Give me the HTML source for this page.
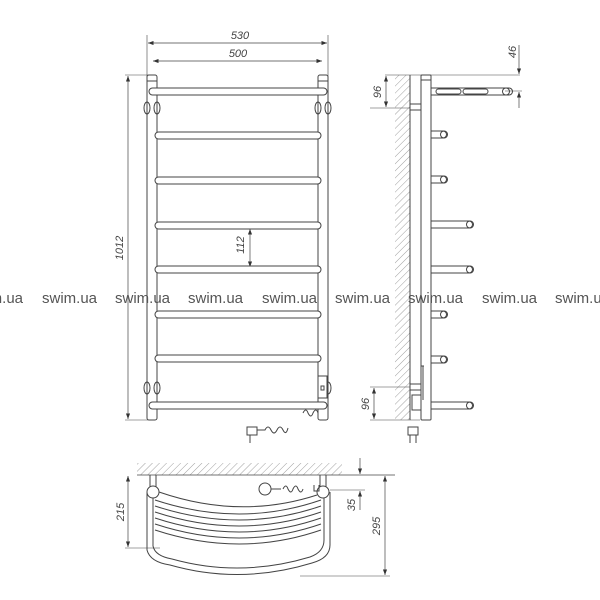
<!DOCTYPE html><html><head><style>body{margin:0;background:#fff}svg{display:block}</style></head><body>
<svg width="600" height="600" viewBox="0 0 600 600" xmlns="http://www.w3.org/2000/svg" font-family="Liberation Sans, sans-serif">
<defs>
<pattern id="h" width="5" height="5" patternUnits="userSpaceOnUse" patternTransform="rotate(45)"><line x1="0" y1="0" x2="0" y2="5" stroke="#888" stroke-width="0.8"/></pattern>
<marker id="a" markerWidth="8" markerHeight="6" refX="8" refY="3" orient="auto-start-reverse"><path d="M0,0 L8,3 L0,6z" fill="#333"/></marker>
</defs>
<g fill="none" stroke="#444" stroke-width="1">
<!-- front view dims -->
<line x1="147" y1="35" x2="147" y2="80" stroke-width="0.6"/><line x1="328" y1="35" x2="328" y2="80" stroke-width="0.6"/>
<line x1="148" y1="43" x2="327" y2="43" marker-start="url(#a)" marker-end="url(#a)" stroke-width="0.7"/>
<line x1="153" y1="61" x2="322" y2="61" marker-start="url(#a)" marker-end="url(#a)" stroke-width="0.7"/>
<line x1="125" y1="75" x2="152" y2="75" stroke-width="0.6"/><line x1="125" y1="420" x2="152" y2="420" stroke-width="0.6"/>
<line x1="128" y1="76" x2="128" y2="419" marker-start="url(#a)" marker-end="url(#a)" stroke-width="0.7"/>
<line x1="250" y1="229" x2="250" y2="267" marker-start="url(#a)" marker-end="url(#a)" stroke-width="0.7"/>
<!-- uprights -->
<rect x="147" y="75" width="10" height="345" rx="2"/><rect x="318" y="75" width="10" height="345" rx="2"/>
<line x1="147" y1="81" x2="157" y2="81"/><line x1="318" y1="81" x2="328" y2="81"/>
<ellipse cx="147" cy="108" rx="3" ry="6"/><ellipse cx="157" cy="108" rx="3" ry="6"/>
<ellipse cx="318" cy="108" rx="3" ry="6"/><ellipse cx="328" cy="108" rx="3" ry="6"/>
<ellipse cx="147" cy="388" rx="3" ry="6"/><ellipse cx="157" cy="388" rx="3" ry="6"/>
<ellipse cx="328" cy="388" rx="3" ry="6"/>
<!-- rails -->
<rect x="149" y="88" width="178" height="7" rx="3.5" fill="#fff"/>
<rect x="155" y="132" width="166" height="7" rx="3.5" fill="#fff"/>
<rect x="155" y="177" width="166" height="7" rx="3.5" fill="#fff"/>
<rect x="155" y="222" width="166" height="7" rx="3.5" fill="#fff"/>
<rect x="155" y="266" width="166" height="7" rx="3.5" fill="#fff"/>
<rect x="155" y="311" width="166" height="7" rx="3.5" fill="#fff"/>
<rect x="155" y="355" width="166" height="7" rx="3.5" fill="#fff"/>
<rect x="149" y="402" width="178" height="7" rx="3.5" fill="#fff"/>
<rect x="318" y="376" width="9" height="22" fill="#fff"/><rect x="321" y="386" width="3" height="4"/>
<!-- plug front -->
<path d="M247,427 h10 v8 h-10z M250,435 v8 M257,430 h8 q3,-6 6,0 q3,6 6,0 q3,-6 6,0 q3,6 5,-2 M303,413 q3,-6 5,0 q3,6 5,0 q3,-6 5,0"/>
<!-- side view -->
<rect x="395" y="75" width="15" height="345" fill="url(#h)" stroke="none"/>
<line x1="410" y1="75" x2="410" y2="420"/>
<line x1="385" y1="75" x2="520" y2="75" stroke-width="0.6"/>
<line x1="370" y1="108" x2="410" y2="108" stroke-width="0.6"/>
<line x1="386" y1="76" x2="386" y2="107" marker-start="url(#a)" marker-end="url(#a)" stroke-width="0.7"/>
<line x1="519" y1="45" x2="519" y2="74" marker-end="url(#a)" stroke-width="0.7"/>
<line x1="519" y1="108" x2="519" y2="92" marker-end="url(#a)" stroke-width="0.7"/>
<line x1="505" y1="91" x2="522" y2="91" stroke-width="0.6"/>
<line x1="370" y1="387" x2="410" y2="387" stroke-width="0.6"/><line x1="370" y1="420" x2="420" y2="420" stroke-width="0.6"/>
<line x1="374" y1="388" x2="374" y2="419" marker-start="url(#a)" marker-end="url(#a)" stroke-width="0.7"/>
<rect x="421" y="75" width="10" height="345" rx="1"/><line x1="421" y1="80" x2="431" y2="80"/>
<rect x="410" y="104" width="11" height="6"/><rect x="410" y="384" width="11" height="6"/>
<rect x="412" y="395" width="9" height="15"/><line x1="421" y1="366" x2="424" y2="366"/><line x1="423" y1="366" x2="423" y2="400"/>
<path d="M431,88 h78 a3.5,3.5 0 0 1 0,7 h-78z"/><circle cx="506" cy="91.5" r="3.5"/>
<rect x="436" y="89" width="25" height="5" rx="2.5"/><rect x="463" y="89" width="25" height="5" rx="2.5"/>
<g id="s"><path d="M431,131 h12 a3.5,3.5 0 0 1 0,7 h-12"/><circle cx="444" cy="134.5" r="3.5"/></g>
<use href="#s" y="45"/><use href="#s" y="180"/><use href="#s" y="225"/>
<g id="l"><path d="M431,221 h38 a3.5,3.5 0 0 1 0,7 h-38z"/><circle cx="470" cy="224.5" r="3.5"/></g>
<use href="#l" y="45"/><use href="#l" y="181"/>
<path d="M408,427 h10 v8 h-10z M410,435 v8 M416,435 v8"/>
<!-- top view -->
<rect x="137" y="463" width="205" height="12" fill="url(#h)" stroke="none"/>
<line x1="137" y1="475" x2="395" y2="475" stroke-width="0.8"/>
<line x1="125" y1="548" x2="160" y2="548" stroke-width="0.6"/>
<line x1="128" y1="476" x2="128" y2="547" marker-start="url(#a)" marker-end="url(#a)" stroke-width="0.7"/>
<line x1="360" y1="458" x2="360" y2="474" marker-end="url(#a)" stroke-width="0.7"/>
<line x1="360" y1="510" x2="360" y2="491" marker-end="url(#a)" stroke-width="0.7"/>
<line x1="330" y1="490" x2="365" y2="490" stroke-width="0.6"/>
<line x1="300" y1="576" x2="390" y2="576" stroke-width="0.6"/>
<line x1="385" y1="476" x2="385" y2="575" marker-start="url(#a)" marker-end="url(#a)" stroke-width="0.7"/>
<line x1="150" y1="475" x2="150" y2="487"/><line x1="156" y1="475" x2="156" y2="487"/>
<line x1="320" y1="475" x2="320" y2="487"/><line x1="326" y1="475" x2="326" y2="487"/>
<circle cx="153" cy="492" r="6"/><circle cx="323" cy="492" r="6"/>
<path d="M159,492 Q240,520 317,495"/>
<path d="M155,500 Q240,528 321,500"/>
<path d="M155,506 Q240,534 321,506"/>
<path d="M155,512 Q240,540 321,512"/>
<path d="M155,518 Q240,546 321,518"/>
<path d="M155,524 Q240,552 321,524"/>
<path d="M155,530 Q240,558 321,530"/>
<path d="M147,492 V550 Q150,562 170,565 Q240,585 312,563 Q330,558 330,545 V492"/>
<path d="M153,498 V546 Q155,556 172,559 Q240,578 310,557 Q324,552 324,540 V498"/>
<circle cx="265" cy="489" r="6"/><path d="M271,489 h10 M283,489 q3,-6 5,0 q3,6 5,0 q3,-6 5,0 q3,6 5,0 M314,485 v6 h5 v-6"/>
</g>
<g fill="#444" font-size="11" font-style="italic">
<text x="240" y="39" text-anchor="middle">530</text>
<text x="238" y="57" text-anchor="middle">500</text>
<text transform="translate(123,248) rotate(-90)" text-anchor="middle">1012</text>
<text transform="translate(244,245) rotate(-90)" text-anchor="middle">112</text>
<text transform="translate(381,92) rotate(-90)" text-anchor="middle">96</text>
<text transform="translate(516,52) rotate(-90)" text-anchor="middle">46</text>
<text transform="translate(369,404) rotate(-90)" text-anchor="middle">96</text>
<text transform="translate(124,512) rotate(-90)" text-anchor="middle">215</text>
<text transform="translate(355,505) rotate(-90)" text-anchor="middle">35</text>
<text transform="translate(380,526) rotate(-90)" text-anchor="middle">295</text>
</g>
<g fill="#555" font-size="15">
<text x="-32" y="303">swim.ua</text><text x="115" y="303">swim.ua</text><text x="188" y="303">swim.ua</text><text x="262" y="303">swim.ua</text><text x="335" y="303">swim.ua</text><text x="408" y="303">swim.ua</text><text x="482" y="303">swim.ua</text><text x="555" y="303">swim.ua</text><text x="42" y="303">swim.ua</text>
</g>
</svg>
</body></html>
